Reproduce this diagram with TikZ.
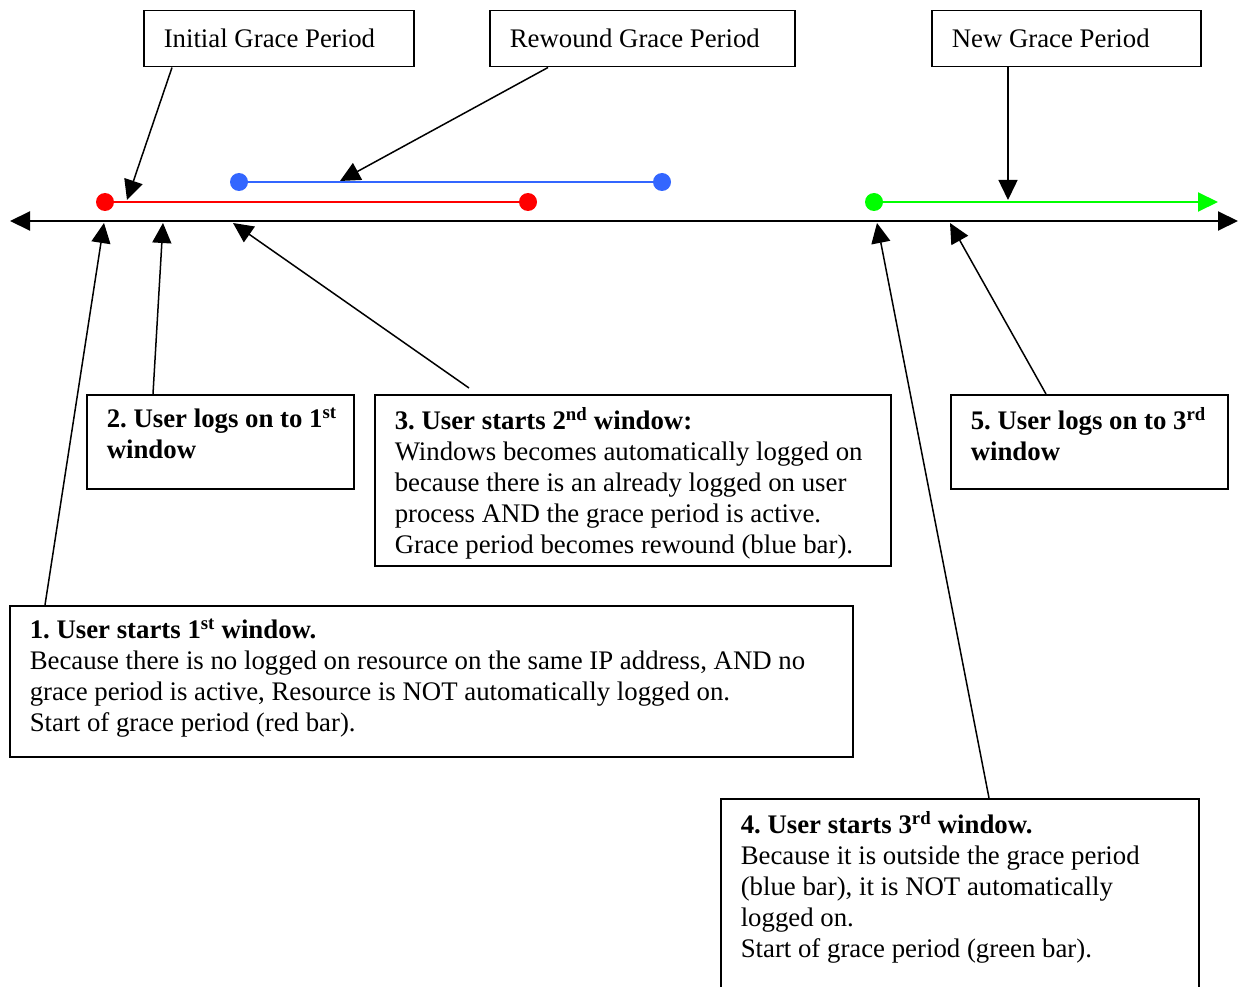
\documentclass[tikz,border=0pt]{standalone}
\usepackage{fontspec}
\setmainfont{Liberation Serif}
\usetikzlibrary{arrows.meta}
\definecolor{graceblue}{RGB}{51,102,255}
\frenchspacing

\begin{document}
\begin{tikzpicture}[x=1pt, y=-1pt, font=\fontsize{26.8}{31}\selectfont]
	\tikzstyle{block} = [rectangle, draw, line width=1.5pt, anchor=north west, inner xsep=20pt, inner ysep=0pt, align=flush left, minimum height=56pt]
	\tikzstyle{note} = [rectangle, draw, line width=1.5pt, anchor=north west, inner xsep=20pt, inner ysep=13pt]
	\tikzstyle{line} = [draw, line width=1.5pt, -{Triangle[length=20pt, width=19pt]}]
	\tikzstyle{bar} = [line width=2pt]
	\tikzstyle{dot} = [circle, inner sep=0pt, minimum size=18pt]
	
	\useasboundingbox (0,0) rectangle (1240,987);
	\clip (0,0) rectangle (1240,987);
	
	% time axis
	\coordinate (axisleft) at (10,221);
	\coordinate (axisright) at (1238,221);
	\draw [line width=2pt, {Triangle[length=20pt, width=19pt]}-{Triangle[length=20pt, width=19pt]}] (axisleft) -- (axisright);
	
	% grace periods
	\node [dot, fill=red] (redstart) at (105,202) {};
	\node [dot, fill=red] (redend) at (528,202) {};
	\node [dot, fill=graceblue] (bluestart) at (239,182) {};
	\node [dot, fill=graceblue] (blueend) at (662,182) {};
	\node [dot, fill=green] (greenstart) at (874,202) {};
	\coordinate (greenend) at (1218,202);
	\draw [bar, red] (redstart) -- (redend);
	\draw [bar, graceblue] (bluestart) -- (blueend);
	\draw [bar, green, -{Triangle[length=20pt, width=19pt]}] (greenstart) -- (greenend);
	
	% points on the axis
	\coordinate (t1) at (104,223);
	\coordinate (t2) at (163,223);
	\coordinate (t3) at (233,223);
	\coordinate (t4) at (877,223);
	\coordinate (t5) at (950,223);
	\coordinate (initialtip) at (127,200);
	\coordinate (rewoundtip) at (340,181);
	\coordinate (newtip) at (1008,200);
	
	\node [block, text width=230pt] (initial) at (143,10) {Initial Grace Period};
	\node [block, text width=265pt] (rewound) at (489,10) {Rewound Grace Period};
	\node [block, text width=229pt] (new) at (931,10) {New Grace Period};
	
	\node [note] (step2) at (86,394) {\parbox[t][68pt][t]{227pt}{\mbox{\textbf{2. User logs on to 1\textsuperscript{st}}}\\\textbf{window}}};
	\node [note] (step3) at (374,394) {\parbox[t][145pt][t]{476pt}{\textbf{3. User starts 2\textsuperscript{nd} window:}\\Windows becomes automatically logged on\\because there is an already logged on user\\process AND the grace period is active.\\Grace period becomes rewound (blue bar).}};
	\node [note] (step5) at (950,394) {\parbox[t][68pt][t]{237pt}{\mbox{\textbf{5. User logs on to 3\textsuperscript{rd}}}\\\textbf{window}}};
	\node [note] (step1) at (9,605) {\parbox[t][125pt][t]{803pt}{\textbf{1. User starts 1\textsuperscript{st} window.}\\Because there is no logged on resource on the same IP address, AND no\\grace period is active, Resource is NOT automatically logged on.\\Start of grace period (red bar).}};
	\node [note] (step4) at (720,798) {\parbox[t][190pt][t]{438pt}{\textbf{4. User starts 3\textsuperscript{rd} window.}\\Because it is outside the grace period\\(blue bar), it is NOT automatically\\logged on.\\Start of grace period (green bar).}};
	
	\path [line] ([xshift=29]initial.south west) -- (initialtip);
	\path [line] ([xshift=59]rewound.south west) -- (rewoundtip);
	\path [line] ([xshift=77]new.south west) -- (newtip);
	\path [line] ([xshift=36]step1.north west) -- (t1);
	\path [line] ([xshift=67]step2.north west) -- (t2);
	\path [line] ([xshift=95, yshift=6]step3.north west) -- (t3);
	\path [line] ([xshift=269]step4.north west) -- (t4);
	\path [line] ([xshift=96]step5.north west) -- (t5);
	
\end{tikzpicture}
\end{document}
